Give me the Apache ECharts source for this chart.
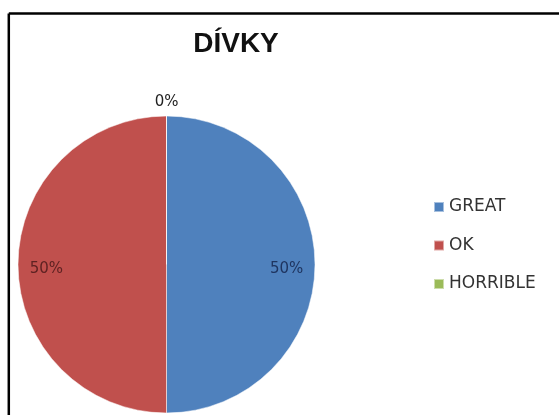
<!DOCTYPE html>
<html>
<head>
<meta charset="utf-8">
<script src="https://cdn.jsdelivr.net/npm/echarts@6/dist/echarts.min.js"></script>
<style>
html,body{margin:0;padding:0;background:#fff;}
#chart{width:559px;height:415px;}
</style>
</head>
<body>
<div id="chart"></div>
<script>
const titleText = 'DÍVKY';
const categories = ['GREAT', 'OK', 'HORRIBLE'];
const values = [50, 50, 0];
const colors = ['#4F81BD', '#C0504D', '#9BBB59'];
const labelColors = ['#1f3560', '#5e2222', '#222222'];

const chart = echarts.init(document.getElementById('chart'), null, {renderer: 'canvas'});

const data = categories.map((name, i) => {
  const item = {
    name: name,
    value: values[i],
    itemStyle: {color: colors[i]},
    label: {color: labelColors[i]}
  };
  if (values[i] === 0) {
    item.labelLine = {show: false, length: 14, length2: -17};
  } else {
    item.labelLine = {show: false, length: -50, length2: 0};
  }
  return item;
});

chart.setOption({
  animation: false,
  backgroundColor: '#fff',
  title: {
    text: titleText,
    left: 231,
    textAlign: 'center',
    top: 25,
    textStyle: {
      fontFamily: 'Liberation Sans',
      fontWeight: 'bold',
      fontSize: 28,
      color: '#111'
    }
  },
  legend: {
    orient: 'vertical',
    left: 428,
    top: 193,
    itemWidth: 10,
    itemHeight: 10,
    itemGap: 20.5,
    icon: 'rect',
    data: categories,
    textStyle: {
      fontFamily: 'DejaVu Sans',
      fontSize: 17,
      lineHeight: 18,
      color: '#333'
    }
  },
  graphic: [
    {type: 'line', shape: {x1: 8.8, y1: 13.6, x2: 559, y2: 13.6}, style: {stroke: '#000', lineWidth: 2.5}},
    {type: 'line', shape: {x1: 8.8, y1: 13.6, x2: 8.8, y2: 415}, style: {stroke: '#000', lineWidth: 2.5}}
  ],
  series: [{
    type: 'pie',
    center: [166.5, 264.5],
    radius: 148.5,
    startAngle: 90,
    clockwise: true,
    avoidLabelOverlap: false,
    minShowLabelAngle: 0,
    itemStyle: {borderColor: 'rgba(255,255,255,0.5)', borderWidth: 1},
    label: {
      show: true,
      position: 'outside',
      formatter: '{d}%',
      fontFamily: 'DejaVu Sans',
      fontSize: 15
    },
    labelLayout: function (params) {
      return values[params.dataIndex] === 0 ? {} : {dy: 5};
    },
    labelLine: {show: false},
    emphasis: {disabled: true},
    data: data
  }]
});
</script>
</body>
</html>
